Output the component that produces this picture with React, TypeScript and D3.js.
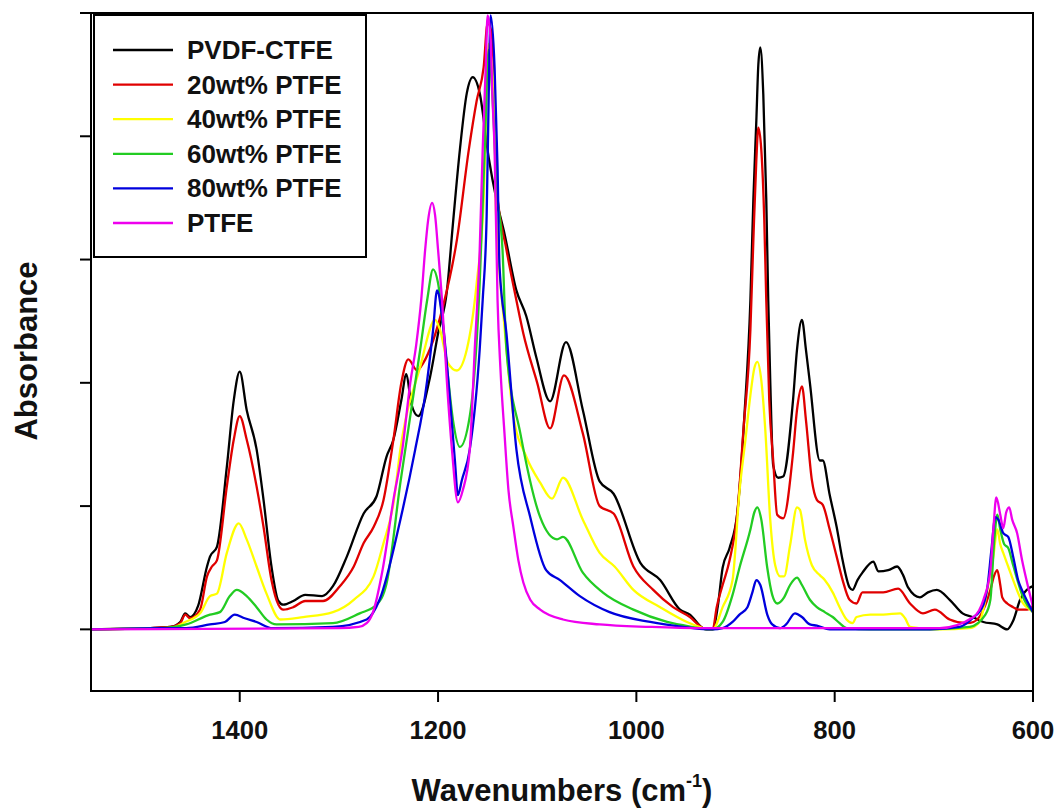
import React from "react";
import * as d3 from "d3";

type Pt = [number, number];

// wavenumber (cm-1), absorbance (arbitrary units, tick spacing = 1)
const xTicks = [1400, 1200, 1000, 800, 600];
const yTicks = [0, 1, 2, 3, 4, 5];
const seriesNames = ["PVDF-CTFE", "20wt% PTFE", "40wt% PTFE", "60wt% PTFE", "80wt% PTFE", "PTFE"];
const seriesColors = ["#000000", "#e00000", "#ffff00", "#22cc22", "#0000dd", "#ee00ee"];

const pvdfCtfe: Pt[] = [
  [1550, 0], [1490, 0.01], [1470, 0.02], [1460, 0.06], [1455, 0.13], [1450, 0.1], [1442, 0.19], [1433, 0.51],
  [1430, 0.59], [1423, 0.67], [1413, 1.32], [1406, 1.86], [1400, 2.09], [1393, 1.78], [1383, 1.46], [1376, 1.05],
  [1368, 0.51], [1361, 0.23], [1356, 0.2], [1346, 0.23], [1334, 0.28], [1317, 0.27], [1306, 0.35], [1292, 0.59],
  [1275, 0.94], [1262, 1.08], [1252, 1.4], [1245, 1.54], [1237, 1.86], [1232, 2.07], [1227, 1.83], [1220, 1.73],
  [1208, 2.05], [1200, 2.4], [1191, 2.75], [1185, 3.29], [1178, 3.89], [1171, 4.35], [1165, 4.48], [1158, 4.35],
  [1149, 3.83], [1141, 3.48], [1133, 3.21], [1121, 2.75], [1111, 2.54], [1101, 2.21], [1087, 1.85], [1071, 2.33],
  [1054, 1.78], [1037, 1.2], [1023, 1.1], [996, 0.54], [976, 0.4], [956, 0.16], [946, 0.12], [933, 0.01],
  [929, 0], [923, 0], [918, 0.18], [913, 0.5], [906, 0.66], [898, 0.96], [891, 1.74], [885, 2.67], [882, 3.49],
  [879, 4.13], [877, 4.58], [875, 4.72], [872, 4.34], [869, 3.49], [867, 2.67], [865, 2.02], [862, 1.33],
  [857, 1.23], [852, 1.24], [842, 1.86], [838, 2.27], [833, 2.51], [829, 2.27], [825, 2.0], [815, 1.37],
  [812, 1.37], [805, 1.09], [798, 0.83], [792, 0.56], [785, 0.34], [782, 0.32], [777, 0.4], [772, 0.46],
  [761, 0.55], [756, 0.47], [746, 0.48], [737, 0.51], [731, 0.44], [726, 0.34], [714, 0.26], [706, 0.3],
  [697, 0.32], [684, 0.24], [671, 0.13], [661, 0.1], [650, 0.06], [636, 0.04], [626, 0], [620, 0.07],
  [613, 0.24], [603, 0.34], [600, 0.35],
];

const ptfe20: Pt[] = [
  [1550, 0], [1490, 0.01], [1470, 0.02], [1460, 0.05], [1455, 0.12], [1450, 0.09], [1440, 0.16], [1433, 0.43],
  [1428, 0.51], [1423, 0.56], [1413, 1.16], [1406, 1.54], [1400, 1.73], [1393, 1.54], [1383, 1.16], [1376, 0.83],
  [1368, 0.4], [1361, 0.2], [1356, 0.16], [1346, 0.18], [1334, 0.23], [1316, 0.23], [1299, 0.35], [1285, 0.51],
  [1275, 0.7], [1265, 0.83], [1255, 1.05], [1245, 1.54], [1237, 2.0], [1230, 2.19], [1221, 2.1], [1215, 2.16],
  [1195, 2.62], [1181, 3.16], [1169, 3.89], [1161, 4.29], [1154, 4.56], [1150, 4.92], [1146, 4.84], [1143, 4.29],
  [1141, 3.59], [1131, 3.08], [1121, 2.67], [1114, 2.4], [1100, 2.0], [1087, 1.63], [1073, 2.06], [1054, 1.59],
  [1037, 1.0], [1023, 0.94], [1003, 0.51], [983, 0.32], [963, 0.18], [946, 0.1], [933, 0.01], [929, 0], [923, 0],
  [919, 0.18], [913, 0.36], [906, 0.56], [898, 0.96], [892, 1.62], [885, 2.43], [882, 3.16], [879, 3.81],
  [877, 4.07], [874, 3.89], [871, 3.32], [869, 2.67], [866, 1.86], [862, 1.37], [858, 0.93], [852, 0.9],
  [842, 1.43], [838, 1.78], [833, 1.97], [829, 1.7], [823, 1.21], [818, 1.05], [812, 1.01], [805, 0.81],
  [798, 0.59], [792, 0.4], [785, 0.24], [778, 0.21], [772, 0.3], [761, 0.3], [751, 0.3], [736, 0.33],
  [724, 0.21], [711, 0.13], [699, 0.16], [684, 0.08], [667, 0.05], [660, 0.06], [650, 0.16], [643, 0.32],
  [639, 0.44], [636, 0.48], [633, 0.36], [631, 0.26], [626, 0.21], [620, 0.18], [615, 0.16], [606, 0.16],
  [600, 0.19],
];

const ptfe40: Pt[] = [
  [1550, 0], [1490, 0.01], [1470, 0.01], [1455, 0.06], [1440, 0.13], [1430, 0.27], [1423, 0.29], [1413, 0.62],
  [1401, 0.86], [1393, 0.73], [1383, 0.51], [1373, 0.29], [1359, 0.08], [1336, 0.1], [1306, 0.14], [1285, 0.24],
  [1265, 0.43], [1255, 0.7], [1245, 1.02], [1238, 1.46], [1218, 2.13], [1203, 2.51], [1198, 2.43], [1190, 2.16],
  [1181, 2.1], [1171, 2.27], [1161, 2.81], [1154, 3.49], [1149, 4.75], [1146, 4.6], [1143, 4.2], [1142, 3.5],
  [1138, 2.9], [1134, 2.54], [1124, 1.73], [1111, 1.4], [1097, 1.19], [1085, 1.06], [1074, 1.23], [1054, 0.89],
  [1037, 0.62], [1022, 0.51], [1003, 0.32], [976, 0.18], [949, 0.06], [933, 0.01], [929, 0], [923, 0],
  [913, 0.18], [903, 0.4], [896, 1.12], [890, 1.54], [885, 1.9], [881, 2.12], [878, 2.17], [874, 2.02],
  [870, 1.62], [865, 0.89], [860, 0.52], [855, 0.43], [851, 0.43], [845, 0.68], [838, 0.99], [835, 0.97],
  [830, 0.73], [823, 0.52], [815, 0.44], [810, 0.4], [802, 0.3], [795, 0.18], [788, 0.08], [782, 0.05],
  [778, 0.1], [764, 0.12], [751, 0.12], [734, 0.13], [729, 0.09], [724, 0.02], [714, 0.01], [694, 0],
  [664, 0.01], [654, 0.06], [646, 0.32], [640, 0.59], [636, 0.81], [633, 0.69], [630, 0.62], [625, 0.51],
  [620, 0.4], [610, 0.21], [603, 0.16], [600, 0.14],
];

const ptfe60: Pt[] = [
  [1550, 0], [1480, 0.01], [1454, 0.04], [1430, 0.12], [1420, 0.14], [1410, 0.27], [1403, 0.32], [1393, 0.27],
  [1383, 0.18], [1373, 0.08], [1363, 0.04], [1306, 0.05], [1279, 0.13], [1262, 0.2], [1252, 0.37], [1238, 1.19],
  [1218, 2.27], [1211, 2.67], [1205, 2.92], [1200, 2.81], [1191, 2.13], [1185, 1.7], [1178, 1.48], [1168, 1.73],
  [1158, 2.81], [1153, 3.89], [1149, 4.7], [1145, 4.3], [1141, 3.6], [1135, 3.08], [1131, 2.27], [1117, 1.59],
  [1097, 0.91], [1080, 0.73], [1074, 0.75], [1054, 0.46], [1034, 0.3], [1003, 0.16], [969, 0.06], [936, 0.01],
  [929, 0], [923, 0], [913, 0.06], [903, 0.28], [896, 0.5], [885, 0.81], [881, 0.95], [878, 0.99], [874, 0.89],
  [868, 0.5], [863, 0.28], [858, 0.21], [851, 0.26], [845, 0.36], [838, 0.42], [833, 0.36], [825, 0.24],
  [818, 0.18], [810, 0.14], [802, 0.1], [795, 0.05], [788, 0.01], [764, 0], [704, 0], [664, 0.02], [648, 0.12],
  [643, 0.24], [639, 0.73], [636, 0.93], [633, 0.81], [629, 0.69], [625, 0.66], [620, 0.52], [610, 0.26],
  [600, 0.14],
];

const ptfe80: Pt[] = [
  [1550, 0], [1480, 0.01], [1454, 0.01], [1430, 0.04], [1415, 0.06], [1405, 0.12], [1395, 0.09], [1383, 0.06],
  [1367, 0.01], [1306, 0.02], [1272, 0.08], [1259, 0.24], [1238, 0.89], [1223, 1.46], [1213, 1.9], [1205, 2.43],
  [1201, 2.75], [1196, 2.54], [1188, 1.86], [1183, 1.37], [1180, 1.09], [1176, 1.21], [1168, 1.46], [1158, 2.27],
  [1155, 2.67], [1151, 3.35], [1149, 4.29], [1147, 4.98], [1143, 4.56], [1140, 3.75], [1138, 2.94], [1131, 2.4],
  [1121, 1.46], [1107, 0.91], [1091, 0.48], [1077, 0.4], [1057, 0.27], [1027, 0.14], [986, 0.06], [953, 0.02],
  [929, 0], [923, 0], [913, 0.01], [903, 0.06], [896, 0.12], [888, 0.18], [883, 0.3], [879, 0.4], [875, 0.36],
  [868, 0.12], [863, 0.04], [855, 0.01], [849, 0.04], [840, 0.13], [833, 0.1], [825, 0.04], [818, 0.03],
  [805, 0], [704, 0], [674, 0.02], [661, 0.09], [650, 0.2], [646, 0.34], [642, 0.64], [638, 0.91], [635, 0.89],
  [630, 0.78], [625, 0.75], [620, 0.59], [615, 0.4], [610, 0.3], [600, 0.14],
];

const ptfe: Pt[] = [
  [1550, 0], [1300, 0.01], [1280, 0.02], [1272, 0.05], [1266, 0.13], [1256, 0.48], [1245, 1.05], [1236, 1.46],
  [1228, 2.0], [1222, 2.31], [1217, 2.67], [1213, 3.08], [1210, 3.32], [1206, 3.46], [1203, 3.36], [1200, 3.08],
  [1196, 2.67], [1191, 2.0], [1186, 1.46], [1180, 1.03], [1175, 1.13], [1168, 1.46], [1163, 2.27], [1158, 3.08],
  [1155, 3.89], [1152, 4.54], [1150, 4.98], [1147, 4.78], [1145, 4.29], [1143, 3.89], [1140, 2.67], [1137, 2.1],
  [1133, 1.59], [1129, 1.13], [1124, 0.83], [1119, 0.56], [1114, 0.38], [1107, 0.24], [1097, 0.16], [1074, 0.08],
  [1037, 0.04], [986, 0.02], [936, 0.01], [694, 0.01], [660, 0.1], [650, 0.24], [643, 0.48], [640, 0.81],
  [637, 1.07], [633, 0.93], [630, 0.82], [627, 0.95], [624, 0.99], [621, 0.89], [616, 0.78], [611, 0.56],
  [606, 0.38], [600, 0.18],
];

const seriesData: Pt[][] = [pvdfCtfe, ptfe20, ptfe40, ptfe60, ptfe80, ptfe];

export default function App() {
  const W = 1060;
  const H = 810;
  const left = 91, right = 1033, top = 13, bottom = 691;
  const x = d3.scaleLinear().domain([1550, 600]).range([left, right]);
  const y = d3.scaleLinear().domain([-0.5, 5]).range([bottom, top]);
  const line = d3
    .line<Pt>()
    .x((d) => x(d[0]))
    .y((d) => y(d[1]))
    .curve(d3.curveMonotoneX);
  const font = "Arial, 'Liberation Sans', sans-serif";

  const legX = 94, legY = 15, legW = 272, legH = 242;
  const rowY = (i: number) => 50 + i * 34.6;

  return (
    <svg
      width={W}
      height={H}
      viewBox={`0 0 ${W} ${H}`}
      style={{ position: "absolute", left: 0, top: 0, background: "#fff" }}
      fontFamily={font}
    >
      <defs>
        <clipPath id="plotClip">
          <rect x={left} y={top} width={right - left} height={bottom - top} />
        </clipPath>
      </defs>
      <rect x={0} y={0} width={W} height={H} fill="#fff" />
      <g clipPath="url(#plotClip)">
        {seriesData.map((s, i) => (
          <path
            key={i}
            d={line(s) || ""}
            fill="none"
            stroke={seriesColors[i]}
            strokeWidth={2.3}
            strokeLinejoin="round"
          />
        ))}
      </g>
      {/* frame */}
      <rect x={left} y={top} width={right - left} height={bottom - top} fill="none" stroke="#000" strokeWidth={2} />
      {/* x ticks */}
      {xTicks.map((t) => (
        <g key={t}>
          <line x1={x(t)} x2={x(t)} y1={bottom} y2={bottom + 11} stroke="#000" strokeWidth={2} />
          <text x={x(t)} y={739} textAnchor="middle" fontSize={25.6} fontWeight="bold" fill="#111">
            {t}
          </text>
        </g>
      ))}
      {/* y ticks */}
      {yTicks.map((t) => (
        <line key={t} x1={left - 11} x2={left} y1={y(t)} y2={y(t)} stroke="#000" strokeWidth={2} />
      ))}
      {/* legend */}
      <rect x={legX} y={legY} width={legW} height={legH} fill="#fff" stroke="#000" strokeWidth={2} />
      {seriesNames.map((n, i) => (
        <g key={n}>
          <line x1={113} x2={173} y1={rowY(i)} y2={rowY(i)} stroke={seriesColors[i]} strokeWidth={2.3} />
          <text x={187} y={rowY(i) + 9} fontSize={26} fontWeight="bold" fill="#111">
            {n}
          </text>
        </g>
      ))}
      {/* axis titles */}
      <text x={562} y={801} textAnchor="middle" fontSize={31} fontWeight="bold" fill="#111">
        Wavenumbers (cm
        <tspan dy={-14} fontSize={18}>-1</tspan>
        <tspan dy={14}>)</tspan>
      </text>
      <text
        transform="translate(37,351) rotate(-90)"
        textAnchor="middle"
        fontSize={31}
        fontWeight="bold"
        fill="#111"
      >
        Absorbance
      </text>
    </svg>
  );
}
